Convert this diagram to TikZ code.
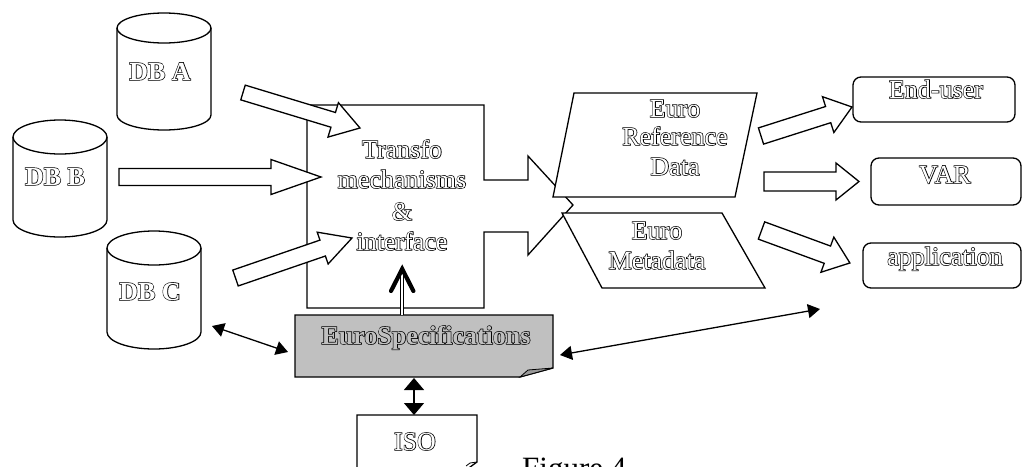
\documentclass[tikz,border=0pt]{standalone}
\usepackage{fontspec}
\setmainfont{Liberation Serif}
\newfontfamily\tnrfb[FakeBold=5]{Liberation Serif}
\newfontfamily\tnrB{Liberation Serif Bold}
\newfontfamily\tnrBfb[FakeBold=5]{Liberation Serif Bold}
\usetikzlibrary{arrows.meta,calc}
\newcommand\hol[2][white]{\makebox[0pt][l]{\tnrfb\color{black}#2}{\rmfamily\color{#1}#2}}
\newcommand\holb[2][white]{\makebox[0pt][l]{\tnrBfb\color{black}#2}{\tnrB\color{#1}#2}}
\definecolor{specgray}{HTML}{C0C0C0}
\definecolor{foldgray}{HTML}{999999}
\tikzset{
  ln/.style={line width=1.3pt, line join=miter},
  lbl/.style={anchor=base, inner sep=0pt, font=\fontsize{26}{30}\selectfont},
  dbl/.style={line width=1.3pt, {Triangle[length=12pt,width=14pt]}-{Triangle[length=12pt,width=14pt]}},
  rbox/.style={ln, rounded corners=8pt, fill=white}
}
% block arrow: x1 y1 x2 y2 shafthalf headhalf headlen
\newcommand\barrow[7]{%
  \pgfmathsetmacro\baang{atan2(#2-#4,#3-#1)}%
  \pgfmathsetmacro\balen{veclen(#3-#1,#4-#2)}%
  \pgfmathsetmacro\babase{\balen-#7}%
  \begin{scope}[shift={(#1,#2)},rotate=\baang]
    \draw[ln,fill=white] (0,-#5) -- (\babase,-#5) -- (\babase,-#6) -- (\balen,0)
      -- (\babase,#6) -- (\babase,#5) -- (0,#5) -- cycle;
  \end{scope}}
% cylinder: cx top bottom rx ry
\newcommand\cyl[5]{%
  \pgfmathsetmacro\cyL{#1-#4}%
  \pgfmathsetmacro\cyR{#1+#4}%
  \pgfmathsetmacro\cyT{#2+#5}%
  \pgfmathsetmacro\cyB{#3-#5}%
  \draw[ln,fill=white] (\cyL,\cyT) -- (\cyL,\cyB)
    arc[start angle=180,end angle=360,x radius=#4pt,y radius=#5pt]
    -- (\cyR,\cyT)
    arc[start angle=0,end angle=180,x radius=#4pt,y radius=#5pt] -- cycle;
  \draw[ln] (\cyL,\cyT) arc[start angle=180,end angle=360,x radius=#4pt,y radius=#5pt];}
\begin{document}
\begin{tikzpicture}[x=1pt,y=-1pt]
\useasboundingbox[fill=white] (0,0) rectangle (1023,466);

% databases
\cyl{164}{13}{130}{47}{15}
\cyl{60}{120}{237}{47}{17}
\cyl{154}{231}{349}{47}{17}

% transformation box with outgoing arrow
\draw[ln,fill=white] (307,105) -- (484,105) -- (484,180) -- (528,180) -- (528,156)
  -- (573,205) -- (528,255) -- (528,232) -- (484,232) -- (484,308) -- (307,308) -- cycle;

% incoming block arrows
\barrow{243}{92.5}{360}{128}{7.7}{18}{28}
\barrow{119}{177}{321}{177}{8.5}{17.5}{50}
\barrow{235.5}{278}{352}{238}{8.4}{16.8}{31}

% parallelograms
\draw[ln,fill=white] (574,93) -- (757,93) -- (735,197) -- (553,197) -- cycle;
\draw[ln,fill=white] (562,213) -- (722,213) -- (765,288) -- (602,288) -- cycle;

% outgoing block arrows
\barrow{761}{136}{852}{107}{8.5}{18.8}{25}
\barrow{764}{181.5}{859}{181.5}{9.5}{18.5}{23}
\barrow{761.5}{230.5}{850}{263}{9.2}{18.7}{24}

% right boxes
\draw[rbox] (853,77) rectangle (1015,122);
\draw[rbox] (871,158) rectangle (1021,205);
\draw[rbox] (863,243) rectangle (1021,288);

% EuroSpecifications box
\draw[ln,fill=specgray] (295,315) -- (553,315) -- (553,368) -- (520,377) -- (295,377) -- cycle;
\draw[line width=0.8pt,fill=foldgray] (520,377) -- (528,370) -- (553,368) -- cycle;

% ISO box
\draw[ln,fill=white] (357,480) -- (357,415) -- (477,415) -- (477,462) -- (466,470) -- (466,480);
\draw[line width=0.8pt] (477,462) -- (470,463) -- (466,466);

% connection coordinates
\coordinate (specT) at (402,315);
\coordinate (trB) at (402,272);
\coordinate (dbcR) at (212,326);
\coordinate (specL) at (288,352);
\coordinate (specR) at (560,355);
\coordinate (farR) at (820,309);
\coordinate (specB) at (414,378);
\coordinate (isoT) at (414,415);

% thick arrow up into transformation box
\draw[line width=1pt, double distance=2.4pt] (specT) -- (trB);
\draw[line width=4.2pt, line cap=round, line join=miter] (391,291) -- (402.2,269) -- (413.4,291);

% double arrows
\draw[dbl] (dbcR) -- (specL);
\draw[dbl] (specR) -- (farR);
\draw[line width=1.3pt, {Triangle[length=12pt,width=20pt]}-{Triangle[length=12pt,width=20pt]}] (specB) -- (isoT);

% labels
\node[lbl] (dba) at (160,80) {\holb{DB A}};
\node[lbl] (dbb) at (55,185) {\holb{DB B}};
\node[lbl] (dbc) at (150,300) {\holb{DB C}};

\node[lbl] (tr1) at (402,158) {\hol{Transfo}};
\node[lbl] (tr2) at (402,188) {\hol{mechanisms}};
\node[lbl] (tr3) at (402,220) {\hol{\&}};
\node[lbl] (tr4) at (402,250) {\hol{interface}};

\node[lbl] (er1) at (675,117) {\hol{Euro}};
\node[lbl] (er2) at (675,145) {\hol{Reference}};
\node[lbl] (er3) at (675,175) {\hol{Data}};
\node[lbl] (em1) at (657,239) {\hol{Euro}};
\node[lbl] (em2) at (657,269) {\hol{Metadata}};

\node[lbl] (eu) at (936,98) {\hol{End-user}};
\node[lbl] (var) at (945,183) {\hol{VAR}};
\node[lbl] (app) at (945,265) {\hol{application}};

\node[lbl] (spec) at (426,344) {\holb[specgray]{EuroSpecifications}};
\node[lbl] (iso) at (415,450) {\hol{ISO}};

\node[anchor=base west, inner sep=0pt, font=\fontsize{31}{36}\selectfont] (fig) at (522,478) {Figure 4};
\end{tikzpicture}
\end{document}
